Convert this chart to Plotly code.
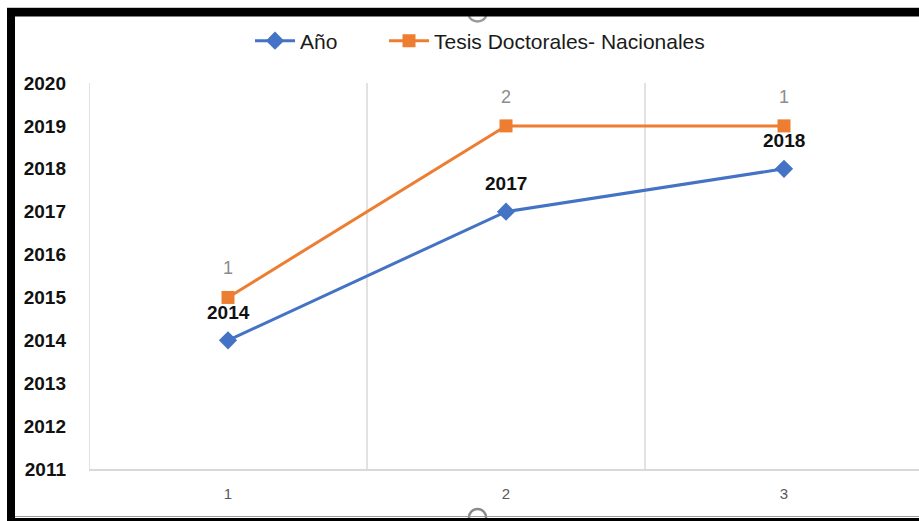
import numpy as np
import plotly.graph_objects as go

categories = [1, 2, 3]
anio = [2014, 2017, 2018]
tesis = [1, 2, 1]
y_ticks = list(range(2011, 2021))

W, H = 919, 521
ML, MR, MT, MB = 89, 0, 83, 52
PW = W - ML - MR
PH = H - MT - MB

def px(x):
    return (x - ML) / PW

def py(y):
    return (H - MB - y) / PH

stacked = (np.array(anio) + np.array(tesis)).tolist()

BLUE = "#4472C4"
ORANGE = "#ED7D31"
FONT = "Liberation Sans, Arial, sans-serif"

fig = go.Figure()
fig.add_trace(go.Scatter(
    x=categories, y=anio, name="Año", mode="lines+markers",
    line=dict(color=BLUE, width=3),
    marker=dict(symbol="diamond", size=14, color=BLUE),
    legend="legend",
))
fig.add_trace(go.Scatter(
    x=categories, y=stacked, name="Tesis Doctorales- Nacionales", mode="lines+markers",
    line=dict(color=ORANGE, width=3),
    marker=dict(symbol="square", size=13, color=ORANGE),
    legend="legend2",
))

annotations = []
for c, v in zip(categories, anio):
    annotations.append(dict(x=c, y=v, text=f"<b>{v}</b>", showarrow=False, yshift=28,
                            font=dict(family=FONT, size=19, color="#111111")))
for c, v, t in zip(categories, stacked, tesis):
    annotations.append(dict(x=c, y=v, text=str(t), showarrow=False, yshift=29,
                            font=dict(family=FONT, size=18, color="#8C8C8C")))

shapes = []
for gx in [0.5, 1.5, 2.5]:
    shapes.append(dict(type="line", xref="x", yref="paper", x0=gx, x1=gx, y0=0, y1=1,
                       line=dict(color="#D9D9D9", width=1.5), layer="below"))
shapes += [
    dict(type="circle", xref="paper", yref="paper", x0=px(469), x1=px(486), y0=py(8.5), y1=py(21.5),
         fillcolor="white", line=dict(color="#9A9A9A", width=2.5), layer="below"),
    dict(type="circle", xref="paper", yref="paper", x0=px(469), x1=px(486), y0=py(509), y1=py(526),
         fillcolor="white", line=dict(color="#8A8A8A", width=2.5), layer="below"),
    dict(type="line", xref="paper", yref="paper", x0=px(7), x1=px(919), y0=py(7.5), y1=py(7.5),
         line=dict(color="#C8C8C8", width=1)),
    dict(type="rect", xref="paper", yref="paper", x0=px(7), x1=px(919), y0=py(8), y1=py(16.5),
         fillcolor="black", line=dict(width=0)),
    dict(type="rect", xref="paper", yref="paper", x0=px(7), x1=px(15), y0=py(8), y1=py(521),
         fillcolor="black", line=dict(width=0)),
    dict(type="line", xref="paper", yref="paper", x0=px(15), x1=px(919), y0=py(516.5), y1=py(516.5),
         line=dict(color="#9A9A9A", width=1)),
    dict(type="rect", xref="paper", yref="paper", x0=px(7), x1=px(919), y0=py(518), y1=py(521),
         fillcolor="black", line=dict(width=0)),
]

legend_style = dict(orientation="h", xanchor="left", yanchor="middle", bgcolor="rgba(0,0,0,0)",
                    font=dict(family=FONT, size=21, color="#1A1A1A"), itemwidth=40)

fig.update_layout(
    width=W, height=H,
    margin=dict(l=ML, r=MR, t=MT, b=MB, pad=0),
    paper_bgcolor="white", plot_bgcolor="white",
    font=dict(family=FONT),
    showlegend=True,
    legend=dict(x=px(250), y=py(41), **legend_style),
    legend2=dict(x=px(384), y=py(41), **legend_style),
    xaxis=dict(range=[0.5, 0.5 + PW / 278.0], tickvals=categories, ticktext=[str(c) for c in categories],
               showgrid=False, zeroline=False, showline=True, linecolor="#D9D9D9", linewidth=1.5,
               ticks="", ticklabelstandoff=10,
               tickfont=dict(family=FONT, size=15, color="#595959")),
    yaxis=dict(range=[2011, 2020], tickvals=y_ticks, ticktext=[f"<b>{t}</b>" for t in y_ticks],
               showgrid=False, zeroline=False, showline=False, ticks="",
               ticklabelstandoff=22,
               tickfont=dict(family=FONT, size=19, color="#111111")),
    annotations=annotations,
    shapes=shapes,
)

fig.write_html("out.html", config={"displayModeBar": False},
               post_script="document.body.style.margin='0';document.body.style.overflow='hidden';")
